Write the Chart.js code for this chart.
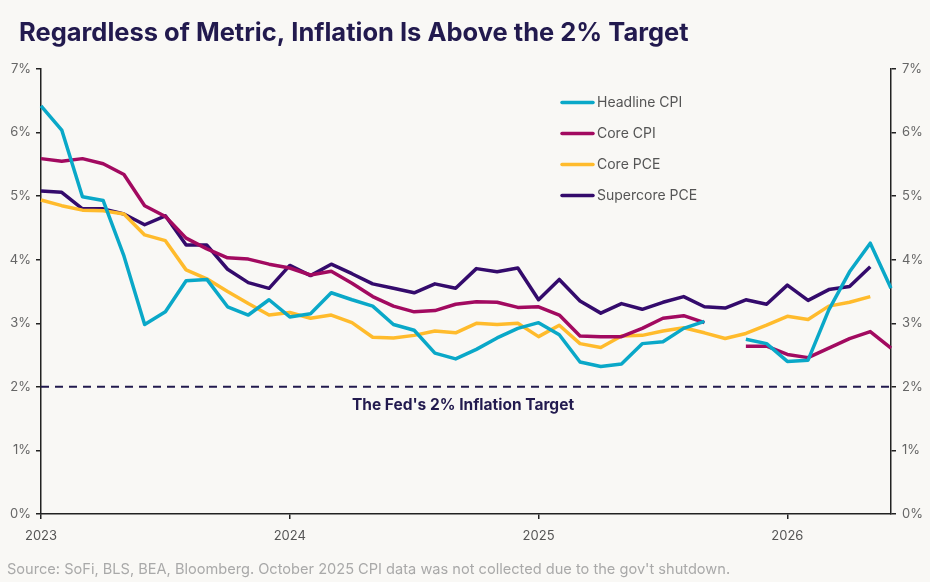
<!DOCTYPE html>
<html>
<head>
<meta charset="utf-8">
<script src="https://cdn.jsdelivr.net/npm/chart.js@4.4.1/dist/chart.umd.min.js"></script>
<style>
  html, body { margin: 0; padding: 0; background: #f9f8f5; }
  #wrap { width: 930px; height: 582px; }
</style>
</head>
<body>
<div id="wrap"><canvas id="myChart" width="930" height="582"></canvas></div>
<script>
// months Jan 2023 .. Jun 2026
var months = [
  "2023-01","2023-02","2023-03","2023-04","2023-05","2023-06","2023-07","2023-08","2023-09","2023-10","2023-11","2023-12",
  "2024-01","2024-02","2024-03","2024-04","2024-05","2024-06","2024-07","2024-08","2024-09","2024-10","2024-11","2024-12",
  "2025-01","2025-02","2025-03","2025-04","2025-05","2025-06","2025-07","2025-08","2025-09","2025-10","2025-11","2025-12",
  "2026-01","2026-02","2026-03","2026-04","2026-05","2026-06"
];

var headlineCpi = [
  6.42, 6.04, 4.99, 4.93, 4.06, 2.98, 3.18, 3.67, 3.69, 3.26, 3.13, 3.37,
  3.10, 3.15, 3.48, 3.37, 3.27, 2.98, 2.89, 2.53, 2.44, 2.59, 2.77, 2.92,
  3.01, 2.82, 2.39, 2.32, 2.36, 2.68, 2.71, 2.92, 3.03, null, 2.75, 2.68,
  2.40, 2.42, 3.21, 3.81, 4.26, 3.55
];
var coreCpi = [
  5.59, 5.55, 5.59, 5.51, 5.34, 4.85, 4.68, 4.34, 4.17, 4.03, 4.01, 3.93,
  3.87, 3.76, 3.82, 3.63, 3.42, 3.27, 3.18, 3.20, 3.30, 3.34, 3.33, 3.25,
  3.26, 3.13, 2.80, 2.79, 2.79, 2.92, 3.08, 3.12, 3.01, null, 2.64, 2.64,
  2.51, 2.46, 2.61, 2.76, 2.87, 2.61
];
var corePce = [
  4.94, 4.85, 4.78, 4.77, 4.72, 4.39, 4.30, 3.84, 3.70, 3.50, 3.31, 3.13,
  3.17, 3.08, 3.13, 3.01, 2.78, 2.77, 2.81, 2.88, 2.85, 3.00, 2.98, 3.00,
  2.79, 2.97, 2.68, 2.62, 2.80, 2.81, 2.88, 2.93, 2.85, 2.76, 2.84, 2.97,
  3.11, 3.06, 3.27, 3.33, 3.42, null
];
var supercorePce = [
  5.08, 5.06, 4.80, 4.80, 4.72, 4.55, 4.69, 4.23, 4.23, 3.85, 3.64, 3.55,
  3.91, 3.75, 3.93, 3.78, 3.62, 3.55, 3.48, 3.62, 3.55, 3.86, 3.81, 3.87,
  3.37, 3.69, 3.35, 3.16, 3.31, 3.22, 3.33, 3.42, 3.26, 3.24, 3.37, 3.30,
  3.60, 3.36, 3.53, 3.58, 3.89, null
];

var seriesNames = ["Headline CPI", "Core CPI", "Core PCE", "Supercore PCE"];
var seriesColors = ["#0aa8c8", "#a20a60", "#ffbb2c", "#340b6c"];
var targetRate = 2;
var targetLabel = "The Fed's 2% Inflation Target";
var titleText = "Regardless of Metric, Inflation Is Above the 2% Target";
var sourceText = "Source: SoFi, BLS, BEA, Bloomberg. October 2025 CPI data was not collected due to the gov't shutdown.";

var FONT = "Inter, 'Noto Sans', sans-serif";
var NAVY = "#221a4e";

// title, source, legend, target line
var decor = {
  id: "decor",
  beforeDatasetsDraw: function (chart) {
    var ctx = chart.ctx, area = chart.chartArea;
    var y = chart.scales.y.getPixelForValue(targetRate);
    ctx.save();
    ctx.strokeStyle = NAVY;
    ctx.lineWidth = 2;
    ctx.setLineDash([8, 6]);
    ctx.beginPath();
    ctx.moveTo(area.left, y);
    ctx.lineTo(area.right, y);
    ctx.stroke();
    ctx.setLineDash([]);
    ctx.fillStyle = NAVY;
    ctx.font = "bold 15.5px " + FONT;
    ctx.textAlign = "center";
    ctx.textBaseline = "middle";
    ctx.fillText(targetLabel, 463, y + 18);
    ctx.restore();
  },
  afterDraw: function (chart) {
    var ctx = chart.ctx;
    ctx.save();
    ctx.fillStyle = NAVY;
    ctx.font = "bold 25.5px " + FONT;
    ctx.textBaseline = "middle";
    ctx.textAlign = "left";
    ctx.fillText(titleText, 19, 33);

    ctx.fillStyle = "#a9a9a9";
    ctx.font = "14.6px " + FONT;
    ctx.fillText(sourceText, 7, 570);

    ctx.font = "14px " + FONT;
    ctx.lineCap = "round";
    ctx.lineWidth = 3.5;
    for (var i = 0; i < seriesNames.length; i++) {
      var ly = 102.5 + i * 31;
      ctx.strokeStyle = seriesColors[i];
      ctx.beginPath();
      ctx.moveTo(562, ly);
      ctx.lineTo(593, ly);
      ctx.stroke();
      ctx.fillStyle = "#555";
      ctx.fillText(seriesNames[i], 597, ly);
    }
    ctx.restore();
  }
};

var seriesData = [headlineCpi, coreCpi, corePce, supercorePce];
var datasets = seriesNames.map(function (name, i) {
  return {
    label: name,
    data: seriesData[i],
    borderColor: seriesColors[i],
    backgroundColor: seriesColors[i],
    borderWidth: 3.5,
    pointRadius: 0,
    tension: 0,
    spanGaps: false,
    borderJoinStyle: "round"
  };
});

function pct(v) { return v + "%"; }
var axisColor = "#222";

new Chart("myChart", {
  type: "line",
  data: { labels: months, datasets: datasets },
  plugins: [decor],
  options: {
    responsive: false,
    animation: false,
    devicePixelRatio: 1,
    layout: { padding: { top: 69, left: 0, right: 0, bottom: 0 } },
    plugins: {
      legend: { display: false },
      title: { display: false },
      tooltip: { enabled: false }
    },
    scales: {
      x: {
        type: "category",
        offset: false,
        afterFit: function (s) { s.height = 68; },
        border: { display: true, color: axisColor, width: 1.5 },
        grid: {
          drawOnChartArea: false,
          drawTicks: true,
          tickLength: 5,
          lineWidth: 1.5,
          color: function (c) { return c.index % 12 === 0 ? axisColor : "rgba(0,0,0,0)"; }
        },
        ticks: {
          autoSkip: false,
          maxRotation: 0,
          padding: 9,
          color: "#555",
          font: { family: FONT, size: 13 },
          callback: function (v, i) { return i % 12 === 0 ? months[i].slice(0, 4) : ""; }
        }
      },
      y: {
        position: "left",
        min: 0, max: 7,
        afterFit: function (s) { s.width = 41; },
        border: { display: true, color: axisColor, width: 1.5 },
        grid: { drawOnChartArea: false, drawTicks: true, tickLength: 5, color: axisColor, lineWidth: 1.5 },
        ticks: { stepSize: 1, padding: 5, color: "#666", font: { family: FONT, size: 13 }, callback: pct }
      },
      y2: {
        position: "right",
        min: 0, max: 7,
        afterFit: function (s) { s.width = 39; },
        border: { display: true, color: axisColor, width: 1.5 },
        grid: { drawOnChartArea: false, drawTicks: true, tickLength: 5, color: axisColor, lineWidth: 1.5 },
        ticks: { stepSize: 1, padding: 6, color: "#666", font: { family: FONT, size: 13 }, callback: pct }
      }
    }
  }
});
</script>
</body>
</html>
